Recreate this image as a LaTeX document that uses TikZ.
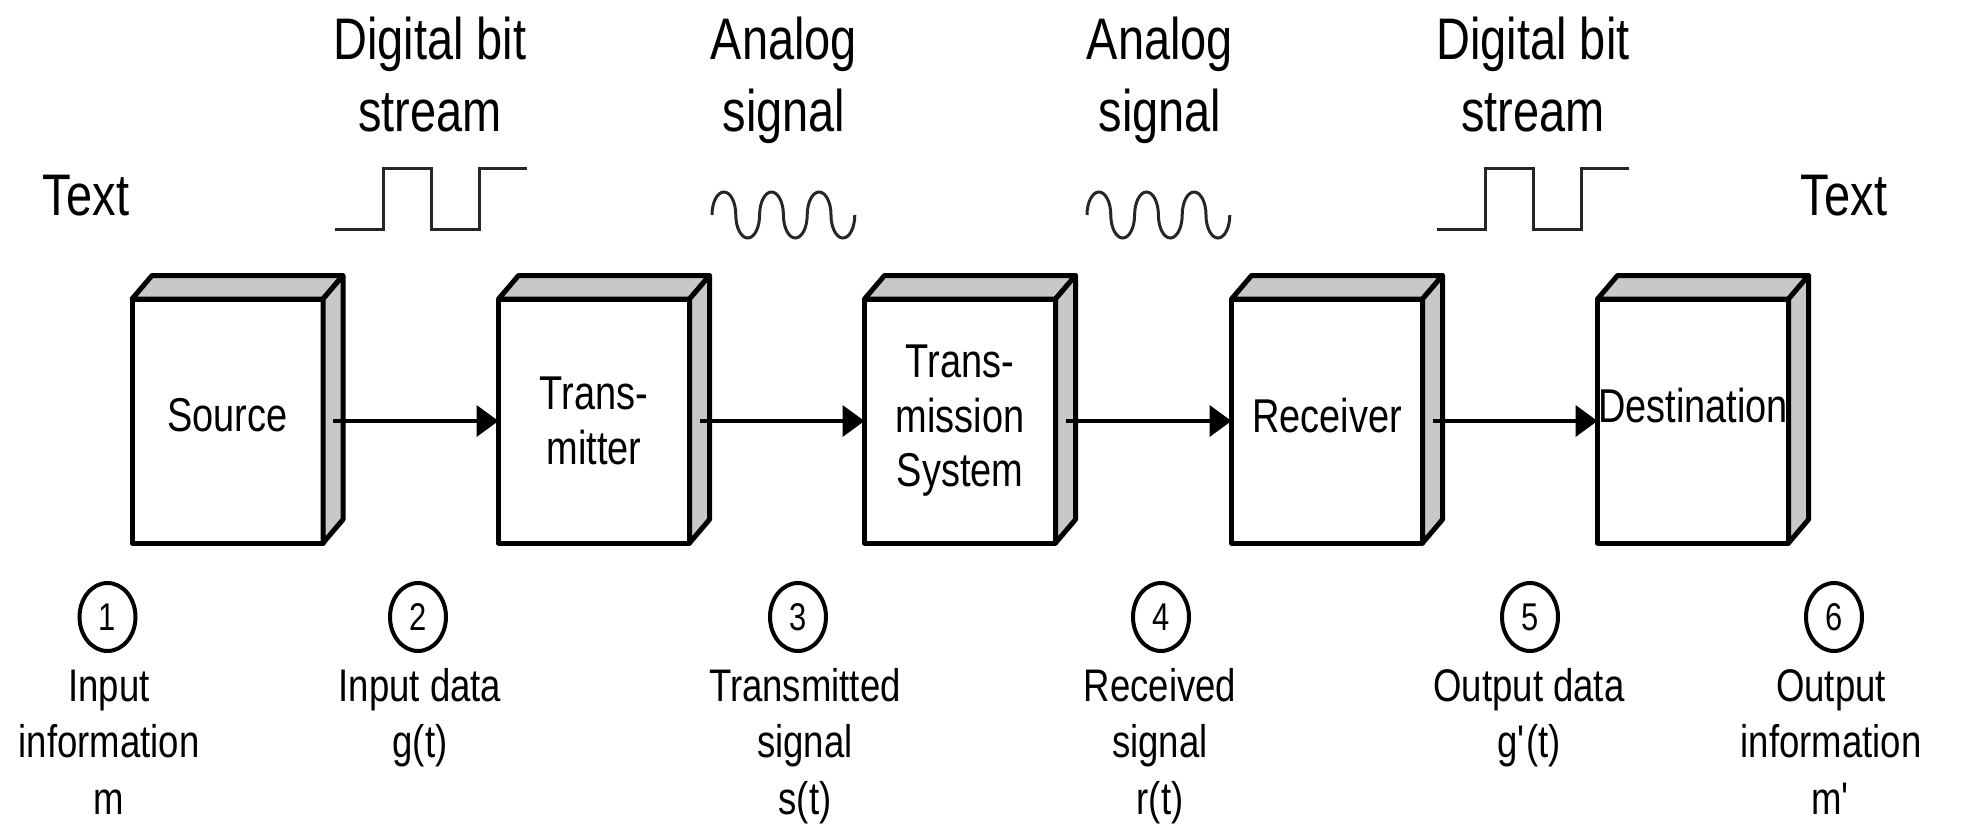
\documentclass[tikz,border=0pt]{standalone}
\usepackage{fontspec}
\setmainfont{Liberation Sans}[FakeStretch=0.8]
\usetikzlibrary{arrows.meta,shapes.geometric}
\definecolor{facegray}{HTML}{C8C8C8}

\begin{document}
\begin{tikzpicture}[
		block/.style={rectangle, draw=black, fill=white, line width=0.05cm, line join=round, minimum width=1.91cm, minimum height=2.44cm, inner sep=0mm, outer sep=0mm, align=center, font=\fontsize{13.5}{15.5}\selectfont},
		face3d/.style={draw=black, fill=facegray, line width=0.05cm, line join=round},
		toplabel/.style={anchor=base, align=center, inner sep=0mm, font=\fontsize{16.7}{20.4}\selectfont},
		botlabel/.style={anchor=base, align=center, inner sep=0mm, font=\fontsize{13}{16}\selectfont},
		stage/.style={ellipse, draw=black, line width=0.04cm, minimum width=0.56cm, minimum height=0.68cm, inner sep=0mm, font=\fontsize{11}{12}\selectfont},
		waveline/.style={line width=0.03cm, draw=black!85},
		flow/.style={-{Triangle[length=0.22cm, width=0.31cm]}, line width=0.04cm},
		digital/.pic={\draw[waveline] (0,0) -- (0.48,0) |- (0.96,0.61) |- (1.44,0) |- (1.92,0.61);},
		analog/.pic={\draw[waveline, x radius=0.119, y radius=0.23] (0,0)
			arc[start angle=180, end angle=0] arc[start angle=180, end angle=360]
			arc[start angle=180, end angle=0] arc[start angle=180, end angle=360]
			arc[start angle=180, end angle=0] arc[start angle=180, end angle=360];}
	]
		\useasboundingbox (0, 0) rectangle (19.62, 8.30);
		\node[block, text depth=0.12cm] (source) at (2.275, 4.09) {Source};
		\node[block] (transmitter) at (5.94, 4.09) {Trans-\\mitter};
		\node[block] (medium) at (9.60, 4.09) {Trans-\\mission\\System};
		\node[block, text depth=0.12cm] (receiver) at (13.27, 4.09) {Receiver};
		\node[block, text depth=0.32cm] (destination) at (16.93, 4.09) {Destination};
		\foreach \b in {source, transmitter, medium, receiver, destination} {
			\draw[face3d] (\b.north west) -- ++(0.2, 0.235) -- ([shift={(0.2, 0.235)}]\b.north east) -- (\b.north east) -- cycle;
			\draw[face3d] (\b.north east) -- ++(0.2, 0.235) -- ([shift={(0.2, 0.235)}]\b.south east) -- (\b.south east) -- cycle;
		}
		\node[toplabel] (textin) at (0.86, 6.15) {Text};
		\node[toplabel] (bitsin) at (4.30, 6.99) {Digital bit\\stream};
		\node[toplabel] (analogout) at (7.84, 6.99) {Analog\\signal};
		\node[toplabel] (analogin) at (11.60, 6.99) {Analog\\signal};
		\node[toplabel] (bitsout) at (15.33, 6.99) {Digital bit\\stream};
		\node[toplabel] (textout) at (18.44, 6.15) {Text};
		\pic at (3.35, 6.01) {digital};
		\pic at (7.12, 6.15) {analog};
		\pic at (10.87, 6.15) {analog};
		\pic at (14.37, 6.01) {digital};
		\node[stage] (s1) at (1.075, 2.13) {1};
		\node[stage] (s2) at (4.18, 2.13) {2};
		\node[stage] (s3) at (7.98, 2.13) {3};
		\node[stage] (s4) at (11.61, 2.13) {4};
		\node[stage] (s5) at (15.30, 2.13) {5};
		\node[stage] (s6) at (18.34, 2.13) {6};
		\node[botlabel] (inputinfo) at (1.09, 0.16) {Input\\information\\m};
		\node[botlabel] (inputdata) at (4.20, 0.725) {Input data\\g(t)};
		\node[botlabel] (txsignal) at (8.05, 0.16) {Transmitted\\signal\\s(t)};
		\node[botlabel] (rxsignal) at (11.60, 0.16) {Received\\signal\\r(t)};
		\node[botlabel] (outputdata) at (15.29, 0.725) {Output data\\g\textquotesingle(t)};
		\node[botlabel] (outputinfo) at (18.31, 0.16) {Output\\information\\m\textquotesingle};
		\draw[flow] ([xshift=0.1cm]source.east) -- (transmitter.west);
		\draw[flow] ([xshift=0.1cm]transmitter.east) -- (medium.west);
		\draw[flow] ([xshift=0.1cm]medium.east) -- (receiver.west);
		\draw[flow] ([xshift=0.1cm]receiver.east) -- (destination.west);
	\end{tikzpicture}
\end{document}
